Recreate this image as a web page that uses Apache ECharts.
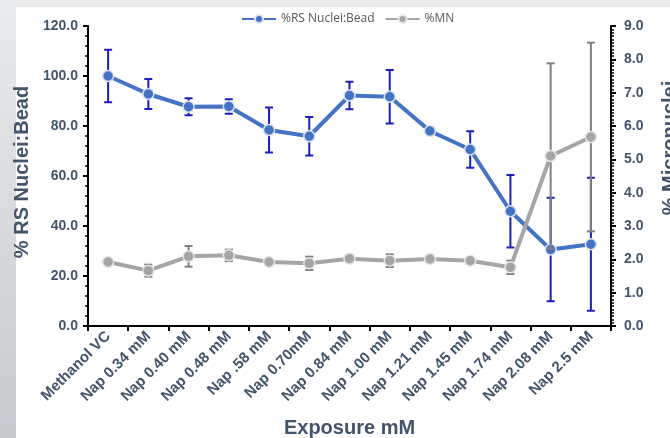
<!DOCTYPE html>
<html>
<head>
<meta charset="utf-8">
<script src="https://cdn.jsdelivr.net/npm/echarts@6/dist/echarts.min.js"></script>
<style>
html,body{margin:0;padding:0;width:670px;height:438px;overflow:hidden;background:linear-gradient(to bottom,#eaebec,#c6cace);}
#c{width:670px;height:438px;}
</style>
</head>
<body>
<div id="c"></div>
<script>
const categories = ['Methanol VC','Nap 0.34 mM','Nap 0.40 mM','Nap 0.48 mM','Nap .58 mM','Nap 0.70mM','Nap 0.84 mM','Nap 1.00 mM','Nap 1.21 mM','Nap 1.45 mM','Nap 1.74 mM','Nap 2.08 mM','Nap 2.5 mM'];
const rsValues = [100.0, 92.8, 87.7, 87.8, 78.4, 75.9, 92.2, 91.7, 78.0, 70.6, 45.9, 30.6, 32.7];
const rsErr    = [10.5, 6.0, 3.4, 2.9, 9.0, 7.7, 5.5, 10.7, 1.0, 7.3, 14.5, 20.7, 26.6];
const mnValues = [1.92, 1.66, 2.09, 2.12, 1.92, 1.88, 2.02, 1.96, 2.01, 1.96, 1.76, 5.10, 5.67];
const mnErr    = [0.10, 0.18, 0.31, 0.17, 0.05, 0.20, 0.10, 0.19, 0.05, 0.05, 0.20, 2.78, 2.83];
const leftTicks = {min:0, max:120, interval:20};
const rightTicks = {min:0, max:9, interval:1};

const FONT = '"Liberation Sans", Arial, sans-serif';
const LABEL = '#44546A';

function errRender(color) {
  return function (params, api) {
    const x = api.value(0), lo = api.value(1), hi = api.value(2);
    const a = api.coord([x, hi]), b = api.coord([x, lo]);
    const w = 4;
    const st = {stroke: color, lineWidth: 2};
    return {type: 'group', children: [
      {type: 'line', shape: {x1: a[0], y1: a[1], x2: b[0], y2: b[1]}, style: st},
      {type: 'line', shape: {x1: a[0]-w, y1: a[1], x2: a[0]+w, y2: a[1]}, style: st},
      {type: 'line', shape: {x1: b[0]-w, y1: b[1], x2: b[0]+w, y2: b[1]}, style: st}
    ]};
  };
}

const rsErrData = categories.map((c, i) => [i, rsValues[i] - rsErr[i], rsValues[i] + rsErr[i]]);
const mnErrData = categories.map((c, i) => [i, mnValues[i] - mnErr[i], mnValues[i] + mnErr[i]]);

const chart = echarts.init(document.getElementById('c'), null, {renderer: 'canvas'});
chart.setOption({
  animation: false,
  textStyle: {fontFamily: FONT},
  graphic: [{type: 'rect', left: 16, top: 7, shape: {width: 654, height: 431}, style: {fill: '#ffffff'}, z: -10, silent: true}],
  legend: {
    left: 236, top: 8, itemWidth: 34, itemHeight: 10, itemGap: 10,
    textStyle: {fontFamily: '"Open Sans", "Liberation Sans", sans-serif', fontSize: 12, color: '#595959'},
    data: ['%RS Nuclei:Bead', '%MN']
  },
  grid: {left: 88, right: 59, top: 26, bottom: 112, containLabel: false, outerBoundsMode: 'none'},
  xAxis: {
    type: 'category', data: categories, boundaryGap: true,
    name: 'Exposure mM', nameLocation: 'middle', nameGap: 92,
    nameTextStyle: {fontFamily: FONT, fontSize: 20, fontWeight: 'bold', color: LABEL},
    axisLine: {lineStyle: {color: '#000', width: 2}},
    axisTick: {show: true, length: 5, inside: false, alignWithLabel: false, lineStyle: {color: '#000', width: 2}},
    axisLabel: {rotate: 45, interval: 0, margin: 8, fontFamily: FONT, fontSize: 15, fontWeight: 'bold', color: LABEL},
    splitLine: {show: false}
  },
  yAxis: [{
    type: 'value', min: leftTicks.min, max: leftTicks.max, interval: leftTicks.interval,
    name: '% RS Nuclei:Bead', nameLocation: 'middle', nameGap: 55, nameRotate: 90,
    nameTextStyle: {fontFamily: FONT, fontSize: 20, fontWeight: 'bold', color: LABEL, padding: [0, 0, 0, 8]},
    axisLine: {show: true, lineStyle: {color: '#000', width: 2}},
    axisTick: {show: true, length: 5, lineStyle: {color: '#000', width: 2}},
    minorTick: {show: true, splitNumber: 5, length: 3, lineStyle: {color: '#000', width: 1.5}},
    axisLabel: {margin: 10, fontFamily: FONT, fontSize: 14, fontWeight: 'bold', color: LABEL, formatter: v => v.toFixed(1)},
    splitLine: {show: false}
  }, {
    type: 'value', position: 'right', min: rightTicks.min, max: rightTicks.max, interval: rightTicks.interval,
    name: '% Micronuclei', nameLocation: 'middle', nameGap: 49, nameRotate: 90,
    nameTextStyle: {fontFamily: FONT, fontSize: 20, fontWeight: 'bold', color: LABEL, padding: [0, 0, 0, 56]},
    axisLine: {show: true, lineStyle: {color: '#000', width: 2}},
    axisTick: {show: true, length: 5, lineStyle: {color: '#000', width: 2}},
    minorTick: {show: true, splitNumber: 10, length: 3, lineStyle: {color: '#000', width: 1.5}},
    axisLabel: {margin: 13, fontFamily: FONT, fontSize: 14, fontWeight: 'bold', color: LABEL, formatter: v => v.toFixed(1)},
    splitLine: {show: false}
  }],
  series: [{
    type: 'custom', name: 'rsErr', yAxisIndex: 0, renderItem: errRender('#1c1cc0'),
    encode: {x: 0, y: [1, 2]}, data: rsErrData, z: 1, silent: true
  }, {
    type: 'line', name: '%RS Nuclei:Bead', yAxisIndex: 0, data: rsValues, z: 2,
    symbol: 'circle', symbolSize: 11,
    lineStyle: {color: '#4472C4', width: 4},
    itemStyle: {color: '#4472C4', borderColor: '#dbe3f3', borderWidth: 1.5}
  }, {
    type: 'custom', name: 'mnErr', yAxisIndex: 1, renderItem: errRender('#7f7f7f'),
    encode: {x: 0, y: [1, 2]}, data: mnErrData, z: 3, silent: true
  }, {
    type: 'line', name: '%MN', yAxisIndex: 1, data: mnValues, z: 4,
    symbol: 'circle', symbolSize: 11,
    lineStyle: {color: '#A5A5A5', width: 4},
    itemStyle: {color: '#A5A5A5', borderColor: '#e6e6e6', borderWidth: 1.5}
  }]
});
</script>
</body>
</html>
